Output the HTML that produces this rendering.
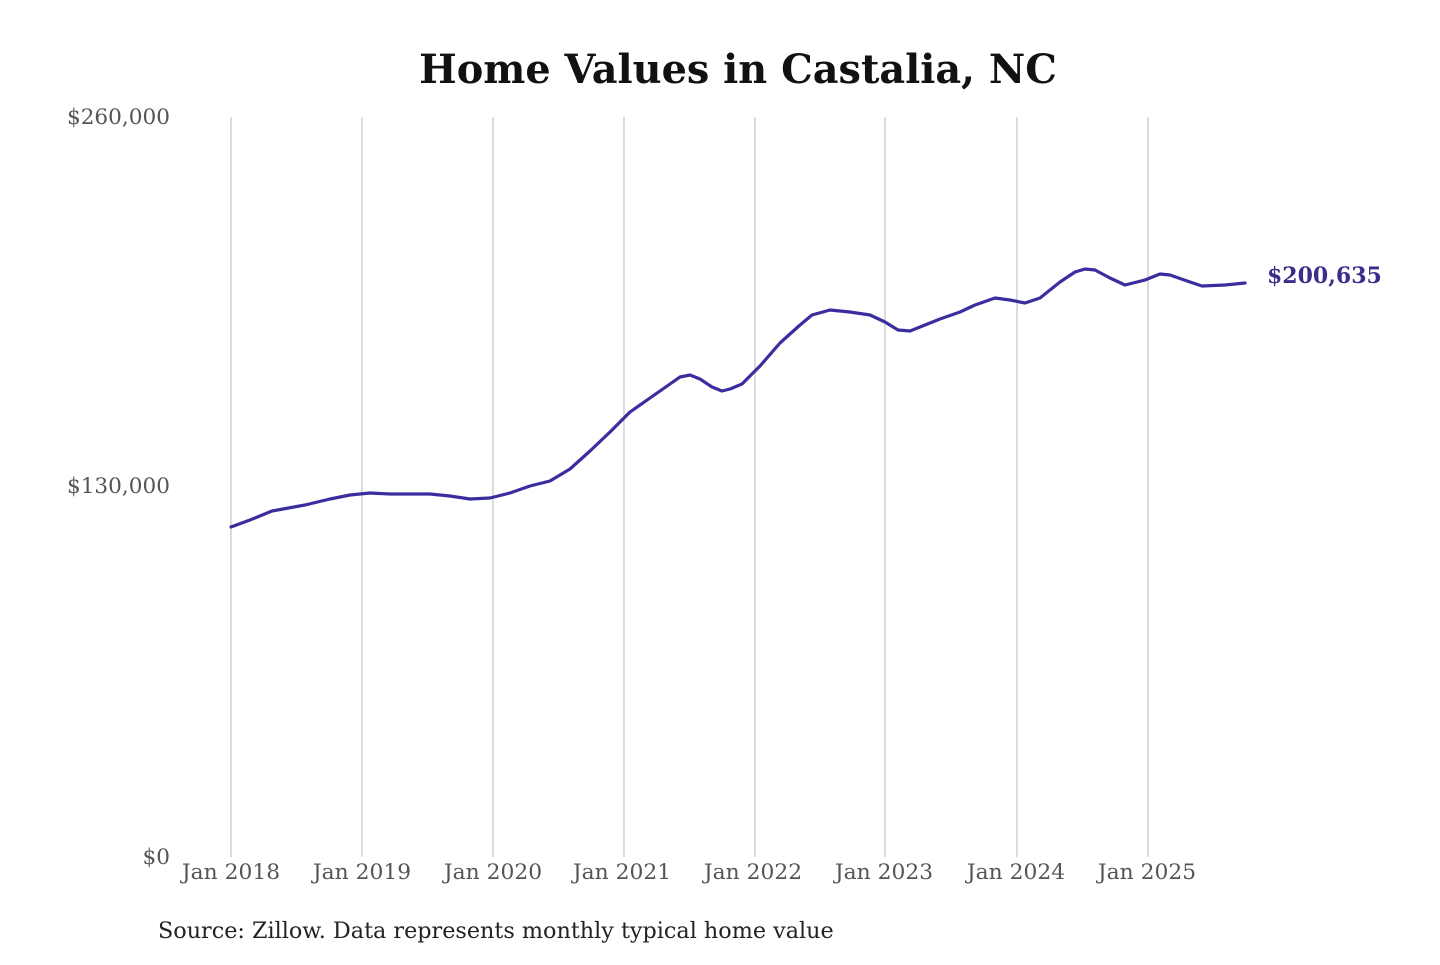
<!DOCTYPE html>
<html><head><style>
html,body{margin:0;padding:0;background:#fff;}
svg text{font-family:"DejaVu Serif","Liberation Serif",serif;}
</style></head><body>
<svg width="1440" height="960" viewBox="0 0 1440 960" xmlns="http://www.w3.org/2000/svg">
<text x="738" y="83" text-anchor="middle" font-size="39.8" font-weight="bold" fill="#111">Home Values in Castalia, NC</text>
<g stroke="#c8c8c8" stroke-width="1.3">
<line x1="231" y1="117" x2="231" y2="857"/>
<line x1="362" y1="117" x2="362" y2="857"/>
<line x1="493" y1="117" x2="493" y2="857"/>
<line x1="624" y1="117" x2="624" y2="857"/>
<line x1="755" y1="117" x2="755" y2="857"/>
<line x1="885" y1="117" x2="885" y2="857"/>
<line x1="1017" y1="117" x2="1017" y2="857"/>
<line x1="1148" y1="117" x2="1148" y2="857"/>
</g>
<g font-size="21.6" fill="#555" text-anchor="end">
<text x="170" y="124">$260,000</text>
<text x="170" y="493">$130,000</text>
<text x="170" y="864">$0</text>
</g>
<g font-size="21.8" fill="#555" text-anchor="middle">
<text x="231" y="879">Jan 2018</text>
<text x="362" y="879">Jan 2019</text>
<text x="493" y="879">Jan 2020</text>
<text x="622" y="879">Jan 2021</text>
<text x="753" y="879">Jan 2022</text>
<text x="884" y="879">Jan 2023</text>
<text x="1016" y="879">Jan 2024</text>
<text x="1147" y="879">Jan 2025</text>
</g>
<polyline fill="none" stroke="#3a2e9e" stroke-width="3.2" stroke-linejoin="round" stroke-linecap="round" points="231,527 250,520 272,511 305,505 330,499 350,495 370,493 390,494 430,494 450,496 470,499 490,498 510,493 530,486 550,481 570,469 590,451 610,432 630,412 650,398 670,384 680,377 690,375 700,379 712,387 722,391 730,389 742,384 760,366 780,343 800,325 812,315 830,310 850,312 870,315 885,322 898,330 910,331 920,327 940,319 960,312 975,305 995,298 1010,300 1025,303 1040,298 1060,282 1075,272 1085,269 1095,270 1110,278 1125,285 1145,280 1160,274 1170,275 1190,282 1202,286 1225,285 1245,283"/>
<text x="1267" y="283" font-size="22" font-weight="bold" fill="#3a2e8a">$200,635</text>
<text x="158" y="938" font-size="22.3" fill="#222">Source: Zillow. Data represents monthly typical home value</text>
</svg>
</body></html>
